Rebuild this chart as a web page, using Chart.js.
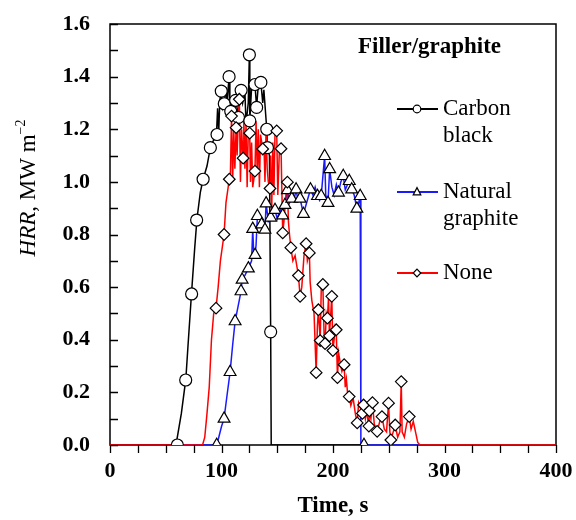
<!DOCTYPE html>
<html><head><meta charset="utf-8">
<script src="https://cdn.jsdelivr.net/npm/chart.js@4/dist/chart.umd.min.js"></script>
<style>html,body{margin:0;padding:0;background:#fff}#wrap{width:576px;height:520px}</style>
</head><body><div id="wrap"><canvas id="c" width="576" height="520"></canvas></div>
<script>
// ---- axis ticks ----
const xTickValues = [0, 100, 200, 300, 400];
const yTickValues = [0, 0.2, 0.4, 0.6, 0.8, 1.0, 1.2, 1.4, 1.6];
const seriesNames = ["Carbon black", "Natural graphite", "None"];

// ---- Carbon black: HRR curve [time s, HRR MW m-2] ----
const carbonLine = [[0,0],[56,0],[60,0.02],[64,0.12],[68,0.25],[70,0.38],[73,0.57],[76,0.75],[78,0.86],[81,0.96],[83.5,1.01],[87,1.06],[90,1.13],[93,1.16],[95.5,1.18],[96.5,1.28],[97.5,1.19],[98.5,1.31],[99.8,1.345],[101,1.28],[102.5,1.297],[104,1.36],[105,1.3],[106.8,1.4],[107.5,1.28],[108.3,1.268],[110,1.32],[111,1.24],[112.7,1.31],[114,1.28],[115.2,1.245],[116.5,1.33],[117.6,1.348],[119,1.3],[121,1.34],[122,1.22],[124,1.3],[125,1.483],[125.4,1.232],[127,1.36],[129,1.37],[130,1.37],[131.5,1.283],[133,1.37],[135.3,1.378],[137,1.3],[138,1.35],[140.6,1.2],[141.2,1.13],[143,1.1],[144.1,0.43],[144.6,0],[226,0]];
const carbonMarks = [[60.4,0],[67.9,0.247],[73.2,0.574],[77.7,0.855],[83.5,1.01],[90,1.13],[96,1.18],[99.8,1.345],[102.5,1.297],[106.8,1.4],[108.3,1.268],[112.7,1.31],[115.2,1.245],[117.6,1.348],[125,1.483],[125.4,1.232],[130,1.37],[131.5,1.283],[135.3,1.378],[140.6,1.2],[141.2,1.13],[144.1,0.43]];

// ---- Natural graphite ----
const graphiteLine = [[0,0],[92,0],[95.7,0],[97,0.02],[100,0.07],[102.3,0.1],[105,0.19],[107.7,0.277],[110,0.38],[112.2,0.47],[115,0.53],[117.5,0.584],[118.5,0.628],[121,0.645],[124.1,0.671],[127,0.7],[128,0.821],[129,0.72],[130.1,0.722],[131,0.76],[132.2,0.87],[134,0.87],[136,0.838],[139,0.818],[140,0.918],[142,0.85],[144.1,0.864],[146,0.88],[148,0.893],[150,0.86],[153,0.9],[154.9,0.872],[156.9,0.912],[159.1,0.968],[161,0.92],[163,0.936],[165,0.93],[166.9,0.971],[168.5,0.93],[170.5,0.936],[173.5,0.878],[177,0.93],[179.8,0.971],[182,0.95],[184,0.98],[186.1,0.946],[188,0.93],[189.4,0.946],[190.5,1.0],[192.5,1.098],[193.5,0.95],[195.5,0.92],[197,1.048],[199,0.98],[201,0.95],[203,0.99],[204.9,0.959],[207,1.0],[209.2,1.022],[211,0.97],[213,0.99],[214.6,1.003],[216.8,0.971],[219,0.95],[221.4,0.898],[223,0.92],[224.4,0.946],[225,0],[278,0]];
const graphiteMarks = [[95.7,0],[102.3,0.1],[107.7,0.277],[112.2,0.47],[117.5,0.584],[118.5,0.628],[124.1,0.671],[130.1,0.722],[128,0.821],[132.2,0.87],[136,0.838],[139,0.818],[140,0.918],[144.1,0.864],[148,0.893],[154.9,0.872],[156.9,0.912],[159.1,0.968],[163,0.936],[166.9,0.971],[170.5,0.936],[173.5,0.878],[179.8,0.971],[186.1,0.946],[189.4,0.946],[192.5,1.098],[197,1.048],[195.5,0.92],[204.9,0.959],[209.2,1.022],[214.6,1.003],[216.8,0.971],[221.4,0.898],[224.4,0.946],[227.8,0]];

// ---- None (no filler) ----
const noneLine = [[0,0],[83,0],[85,0.03],[87,0.12],[89,0.22],[91,0.4],[93,0.5],[95.1,0.52],[97,0.6],[99,0.7],[102.3,0.8],[104,0.92],[107,1.01],[108,1.03],[109,1.25],[110,1.0],[111,1.2],[112,1.05],[113.1,1.206],[114,1.1],[115,1.23],[116,1.314],[117,1.0],[118,1.2],[119.4,1.09],[120,1.25],[121,1.05],[122,1.22],[123,0.98],[124,1.19],[125.3,1.185],[126,1.0],[127,1.15],[128,0.98],[130,1.041],[131,1.23],[132,1.04],[133,1.2],[134,0.98],[135,1.18],[137,1.125],[138,1.15],[139,1.0],[140,1.2],[141,1.05],[142,1.0],[143.5,0.975],[144,1.1],[145,0.88],[146,1.15],[147,0.95],[148,1.19],[149.5,1.194],[150.5,0.95],[152,1.13],[153.4,1.126],[154.9,0.806],[156,0.85],[158,0.96],[159.1,0.999],[160,0.85],[161,0.8],[162.2,0.75],[164,0.7],[166,0.72],[169,0.644],[170.5,0.565],[172,0.6],[174,0.72],[175.9,0.765],[177,0.7],[178.8,0.73],[179.5,0.62],[181,0.55],[183,0.5],[184.9,0.275],[186,0.45],[186.9,0.514],[188.5,0.397],[189.5,0.6],[190.9,0.61],[192,0.42],[192.9,0.385],[194,0.5],[195,0.482],[196,0.56],[196.8,0.415],[198,0.5],[198.9,0.565],[199.9,0.359],[201,0.4],[202,0.45],[202.9,0.438],[204,0.256],[205,0.35],[207,0.3],[208,0.28],[210,0.305],[211,0.22],[212,0.25],[213,0.2],[214.5,0.184],[216,0.15],[218,0.18],[220,0.12],[221.7,0.084],[223,0.16],[226.4,0.12],[227.4,0.152],[229,0.1],[230,0.13],[232.2,0.072],[232.6,0.13],[234,0.1],[235.4,0.161],[237,0.08],[239.6,0.052],[242,0.09],[243.9,0.108],[246,0.06],[248,0.05],[249.8,0.159],[251,0.05],[251.9,0.019],[254,0.05],[255.8,0.076],[258,0.03],[260,0.05],[261.2,0.241],[262,0.05],[264,0.03],[266,0.08],[268.4,0.108],[270,0.06],[272,0.09],[274,0.05],[276,0.01],[278,0],[400,0]];
const noneMarks = [[95.1,0.52],[102.3,0.8],[107,1.01],[109,1.25],[113.1,1.206],[116,1.314],[119.4,1.09],[125.3,1.185],[130,1.041],[137,1.125],[143.5,0.975],[149.5,1.194],[153.4,1.126],[154.9,0.806],[159.1,0.999],[162.2,0.75],[169,0.644],[170.5,0.565],[175.9,0.765],[178.8,0.73],[184.9,0.275],[186.9,0.514],[188.5,0.397],[190.9,0.61],[192.9,0.385],[195,0.482],[196.8,0.415],[198.9,0.565],[199.9,0.359],[202.9,0.438],[204,0.256],[210,0.305],[214.5,0.184],[221.7,0.084],[226.4,0.12],[227.4,0.152],[232.2,0.072],[232.6,0.13],[235.4,0.161],[239.6,0.052],[243.9,0.108],[249.8,0.159],[251.9,0.019],[255.8,0.076],[261.2,0.241],[268.4,0.108]];

const toXY = arr => arr.map(p => ({x: p[0], y: p[1]}));
const COL = {carbon: '#000000', graphite: '#1a1aff', none: '#ff0000'};
const SERIF = '"Liberation Serif", "Times New Roman", serif';

function drawMarker(ctx, style, x, y, r) {
  ctx.beginPath();
  if (style === 'circle') { ctx.arc(x, y, r, 0, Math.PI * 2); }
  else if (style === 'triangle') {
    ctx.moveTo(x, y - r * 1.15); ctx.lineTo(x + r, y + r * 0.75); ctx.lineTo(x - r, y + r * 0.75); ctx.closePath();
  } else { ctx.moveTo(x, y - r); ctx.lineTo(x + r, y); ctx.lineTo(x, y + r); ctx.lineTo(x - r, y); ctx.closePath(); }
  ctx.fillStyle = '#fff'; ctx.fill();
  ctx.lineWidth = 1.2; ctx.strokeStyle = '#000'; ctx.stroke();
}

const framePlugin = {
  id: 'frame',
  beforeDatasetsDraw(chart) {
    const {ctx, chartArea: a, scales: {x, y}} = chart;
    ctx.save();
    ctx.strokeStyle = '#000'; ctx.lineWidth = 1.5;
    ctx.strokeRect(a.left, a.top, a.right - a.left, a.bottom - a.top);
    ctx.lineWidth = 1.3;
    ctx.beginPath();
    for (let v = 0; v <= 1.6001; v += 0.1) {
      const py = Math.round(y.getPixelForValue(v)) + 0.5;
      ctx.moveTo(a.left, py); ctx.lineTo(a.left + 8, py);
    }
    for (let t = 0; t <= 400; t += 25) {
      const px = Math.round(x.getPixelForValue(t)) + 0.5;
      ctx.moveTo(px, a.bottom); ctx.lineTo(px, a.bottom + 8);
    }
    ctx.stroke();
    ctx.restore();
  },
  afterDraw(chart) {
    const {ctx} = chart;
    ctx.save();
    // y-axis title
    const cx = 27, cy = 188;
    ctx.translate(cx, cy); ctx.rotate(-Math.PI / 2);
    ctx.textBaseline = 'alphabetic'; ctx.fillStyle = '#000';
    const f1 = 'italic 23px ' + SERIF, f2 = '23px ' + SERIF, f3 = '14px ' + SERIF;
    ctx.font = f1; const w1 = ctx.measureText('HRR').width;
    ctx.font = f2; const w2 = ctx.measureText(', MW m').width;
    ctx.font = f3; const w3 = ctx.measureText('\u22122').width;
    let sx = -(w1 + w2 + w3) / 2;
    ctx.font = f1; ctx.fillText('HRR', sx, 8); sx += w1;
    ctx.font = f2; ctx.fillText(', MW m', sx, 8); sx += w2;
    ctx.font = f3; ctx.fillText('\u22122', sx, -2);
    ctx.restore();

    // legend
    ctx.save();
    ctx.fillStyle = '#000'; ctx.textBaseline = 'middle';
    ctx.font = 'bold 23px ' + SERIF;
    ctx.fillText('Filler/graphite', 358, 47);
    const items = [
      {col: COL.carbon, style: 'circle', lines: ['Carbon', 'black'], y: 109},
      {col: COL.graphite, style: 'triangle', lines: ['Natural', 'graphite'], y: 192},
      {col: COL.none, style: 'diamond', lines: ['None'], y: 273}
    ];
    ctx.font = '23px ' + SERIF;
    items.forEach(it => {
      ctx.strokeStyle = it.col; ctx.lineWidth = 2;
      ctx.beginPath(); ctx.moveTo(397, it.y); ctx.lineTo(438, it.y); ctx.stroke();
      drawMarker(ctx, it.style, 417, it.y, 3.8);
      ctx.fillStyle = '#000';
      it.lines.forEach((t, i) => ctx.fillText(t, 443, it.y + i * 27));
    });
    ctx.restore();
  }
};

const lineDS = (label, data, col, order) => ({
  label, data: toXY(data), showLine: true, borderColor: col, borderWidth: 1.5,
  pointRadius: 0, pointHoverRadius: 0, fill: false, order
});
const markDS = (label, data, style, r) => ({
  label, data: toXY(data), showLine: false, pointStyle: style, pointRadius: r,
  pointBackgroundColor: '#fff', pointBorderColor: '#000', pointBorderWidth: 1.2, order: 0
});

new Chart(document.getElementById('c'), {
  type: 'scatter',
  data: {
    datasets: [
      lineDS(seriesNames[1], graphiteLine, COL.graphite, 3),
      lineDS(seriesNames[0], carbonLine, COL.carbon, 2),
      lineDS(seriesNames[2], noneLine, COL.none, 1),
      markDS(seriesNames[2] + ' markers', noneMarks, 'rectRot', 5.8),
      markDS(seriesNames[1] + ' markers', graphiteMarks, 'triangle', 6.8),
      markDS(seriesNames[0] + ' markers', carbonMarks, 'circle', 6)
    ]
  },
  options: {
    responsive: false, animation: false, devicePixelRatio: 1,
    layout: {padding: {top: 24, right: 20, left: 0, bottom: 0}},
    plugins: {legend: {display: false}, tooltip: {enabled: false}},
    scales: {
      x: {
        type: 'linear', min: 0, max: 400,
        afterFit: s => { s.height = 75; s.paddingLeft = 0; s.paddingRight = 0; },
        afterBuildTicks: s => { s.ticks = xTickValues.map(v => ({value: v})); },
        grid: {display: false, drawTicks: false}, border: {display: false},
        ticks: {color: '#000', padding: 13, font: {family: SERIF, size: 22, weight: 'bold'}},
        title: {display: true, text: 'Time, s', color: '#000', padding: {top: 7, bottom: 0}, font: {family: SERIF, size: 23, weight: 'bold'}}
      },
      y: {
        type: 'linear', min: 0, max: 1.6,
        afterFit: s => { s.width = 110; s.paddingTop = 0; s.paddingBottom = 0; },
        afterBuildTicks: s => { s.ticks = yTickValues.map(v => ({value: v})); },
        grid: {display: false, drawTicks: false}, border: {display: false},
        ticks: {color: '#000', padding: 20, font: {family: SERIF, size: 22, weight: 'bold'}, callback: v => Number(v).toFixed(1)}
      }
    }
  },
  plugins: [framePlugin]
});
</script>
</body></html>
